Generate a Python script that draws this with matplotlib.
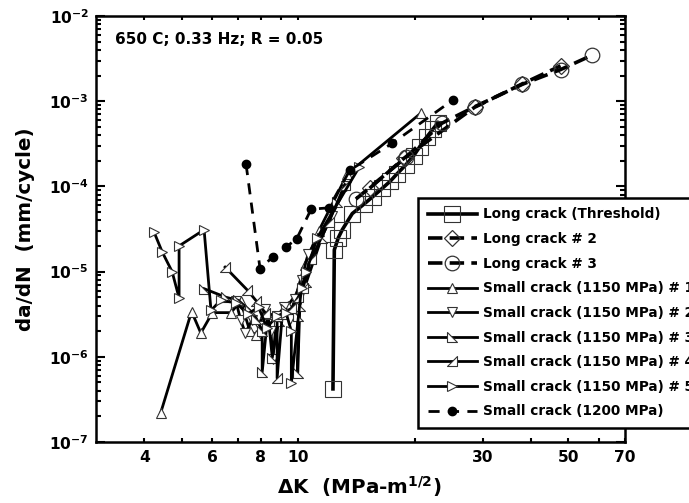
"""
Fatigue crack growth, da/dN vs Delta K, 650 C, log-log axes.
"""

import matplotlib
matplotlib.use("Agg")
import matplotlib.pyplot as plt
from matplotlib.path import Path
from matplotlib.ticker import FixedLocator, FixedFormatter, NullFormatter

plt.rcParams["font.family"] = "DejaVu Sans"
plt.rcParams["font.weight"] = "bold"
plt.rcParams["mathtext.fontset"] = "custom"
plt.rcParams["mathtext.rm"] = "DejaVu Sans:bold"
plt.rcParams["mathtext.bf"] = "DejaVu Sans:bold"
plt.rcParams["mathtext.it"] = "DejaVu Sans:bold"
plt.rcParams["mathtext.default"] = "rm"

# ---------------------------------------------------------------------------
# Data
# ---------------------------------------------------------------------------

long_thr_dk = [12.3, 12.4, 12.7, 13.0, 13.8, 14.8, 15.6, 16.5, 17.3, 18.0,
               19.0, 19.9, 20.6, 21.5, 22.3, 23.0]
long_thr_rate = [4.2e-7, 1.8e-5, 2.5e-5, 3.1e-5, 4.8e-5, 6.2e-5, 7.6e-5, 9.5e-5,
                 1.15e-4, 1.4e-4, 1.8e-4, 2.3e-4, 2.9e-4, 3.8e-4, 4.7e-4, 5.6e-4]

long2_dk = [15.3, 18.8, 28.6, 38.0, 47.7]
long2_rate = [9.5e-5, 2.15e-4, 8.5e-4, 1.6e-3, 2.6e-3]

long3_dk = [14.1, 19.0, 23.5, 28.6, 38.0, 47.7, 57.4]
long3_rate = [7.1e-5, 2.2e-4, 5.5e-4, 8.6e-4, 1.58e-3, 2.35e-3, 3.45e-3]

sc1_dk = [4.41, 5.3, 5.6, 6.0, 6.7, 7.1, 7.5, 7.8, 8.2, 8.8, 9.4, 9.9, 10.4,
          11.3, 13.4, 20.8]
sc1_rate = [2.2e-7, 3.4e-6, 1.9e-6, 3.3e-6, 3.3e-6, 4.5e-6, 2.0e-6, 1.8e-6,
            2.7e-6, 3.0e-6, 4.0e-6, 5.5e-6, 1.2e-5, 3.0e-5, 1.4e-4, 7.3e-4]

sc2_dk = [6.9, 7.1, 7.3, 7.6, 7.9, 8.2, 8.5, 8.6, 8.8, 9.2, 9.5, 9.8, 10.2,
          10.6, 12.2, 13.3]
sc2_rate = [4.5e-6, 2.7e-6, 1.9e-6, 2.7e-6, 2.3e-6, 3.6e-6, 2.0e-6, 9.5e-7,
            3.0e-6, 3.8e-6, 2.8e-6, 4.8e-6, 8.0e-6, 1.6e-5, 4.5e-5, 1.0e-4]

sc3_dk = [5.71, 6.5, 7.0, 7.5, 7.8, 8.07, 8.07, 8.35, 8.57, 8.9, 9.3, 9.97,
          9.97, 10.1, 10.5, 11.5, 12.6]
sc3_rate = [6.3e-6, 5.0e-6, 4.6e-6, 3.5e-6, 2.8e-6, 2.0e-6, 6.6e-7, 3.2e-6,
            9.8e-7, 2.6e-6, 3.6e-6, 3.0e-6, 6.5e-7, 4.0e-6, 7.5e-6, 2.5e-5,
            6.5e-5]

sc4_dk = [6.47, 7.38, 7.8, 8.2, 8.82, 8.82, 9.1, 9.6, 10.0, 10.3, 10.8, 12.0,
          13.2]
sc4_rate = [1.13e-5, 6.1e-6, 4.5e-6, 3.3e-6, 3.0e-6, 5.6e-7, 3.2e-6, 3.7e-6,
            5.0e-6, 6.5e-6, 1.4e-5, 3.8e-5, 1.05e-4]

sc5_dk = [4.24, 4.45, 4.72, 4.92, 4.92, 5.71, 5.95, 6.3, 6.9, 7.4, 7.9, 8.3,
          8.8, 9.3, 9.6, 9.6, 10.2, 10.5, 11.2, 14.4]
sc5_rate = [2.9e-5, 1.7e-5, 1.0e-5, 4.9e-6, 2.0e-5, 3.1e-5, 3.5e-6, 4.6e-6,
            4.3e-6, 3.2e-6, 3.8e-6, 2.2e-6, 3.0e-6, 3.3e-6, 2.0e-6, 4.9e-7,
            6.5e-6, 1.0e-5, 2.5e-5, 1.7e-4]

sc1200_dk = [7.33, 7.97, 8.6, 9.3, 9.9, 10.8, 12.0, 13.6, 17.5, 25.1]
sc1200_rate = [1.83e-4, 1.07e-5, 1.5e-5, 1.95e-5, 2.4e-5, 5.4e-5, 5.6e-5,
               1.55e-4, 3.2e-4, 1.03e-3]

# ---------------------------------------------------------------------------
# Style
# ---------------------------------------------------------------------------

EDGE = "#333333"
# right-angle triangles used by Origin for series #3 and #4
TRI_LEFT = Path([(-1, 1), (-1, -1), (1, -1), (-1, 1)], closed=True)
TRI_RIGHT = Path([(1, 1), (1, -1), (-1, -1), (1, 1)], closed=True)

fig = plt.figure(figsize=(6.89, 5.03), dpi=100)
ax = fig.add_axes([96 / 689, 61 / 503, 529 / 689, 426 / 503])
ax.set_xscale("log")
ax.set_yscale("log")

small = dict(color="black", lw=2.0, ms=6.5, mfc="white", mec=EDGE, mew=0.8)

ax.plot(long_thr_dk, long_thr_rate, "-", color="black", lw=2.6, marker="s",
        ms=11, mfc="none", mec=EDGE, mew=0.8, label="Long crack (Threshold)")
ax.plot(long2_dk, long2_rate, color="black", lw=2.6, dashes=(4, 2), marker="D",
        ms=8.5, mfc="none", mec=EDGE, mew=0.9, label="Long crack # 2")
ax.plot(long3_dk, long3_rate, color="black", lw=2.6, dashes=(4, 2), marker="o",
        ms=10.5, mfc="none", mec=EDGE, mew=0.9, label="Long crack # 3")
ax.plot(sc1_dk, sc1_rate, "-", marker="^", label="Small crack (1150 MPa) # 1", **small)
ax.plot(sc2_dk, sc2_rate, "-", marker="v", label="Small crack (1150 MPa) # 2", **small)
ax.plot(sc3_dk, sc3_rate, "-", marker=TRI_LEFT, label="Small crack (1150 MPa) # 3", **small)
ax.plot(sc4_dk, sc4_rate, "-", marker=TRI_RIGHT, label="Small crack (1150 MPa) # 4", **small)
ax.plot(sc5_dk, sc5_rate, "-", marker=">", label="Small crack (1150 MPa) # 5", **small)
ax.plot(sc1200_dk, sc1200_rate, color="black", lw=2.0, dashes=(4, 3), marker="o",
        ms=6, mfc="black", mec="black", label="Small crack (1200 MPa)")

ax.set_xlim(3, 70)
ax.set_ylim(1e-7, 1e-2)

# ticks
ax.xaxis.set_major_locator(FixedLocator([4, 6, 8, 10, 30, 50, 70]))
ax.xaxis.set_major_formatter(FixedFormatter(["4", "6", "8", "10", "30", "50", "70"]))
ax.xaxis.set_minor_locator(FixedLocator([5, 7, 9, 20, 40, 60]))
ax.xaxis.set_minor_formatter(NullFormatter())

decades = [1e-7, 1e-6, 1e-5, 1e-4, 1e-3, 1e-2]
ax.yaxis.set_major_locator(FixedLocator(decades))
ax.yaxis.set_major_formatter(FixedFormatter([r"$10^{-7}$", r"$10^{-6}$", r"$10^{-5}$",
                                             r"$10^{-4}$", r"$10^{-3}$", r"$10^{-2}$"]))
ax.yaxis.set_minor_locator(FixedLocator([m * d for d in decades[:-1] for m in range(2, 10)]))
ax.yaxis.set_minor_formatter(NullFormatter())

ax.tick_params(axis="both", which="both", direction="in", top=True, right=True,
               width=1.5, labelsize=11.2)
ax.tick_params(axis="x", which="both", length=3, pad=6)
ax.tick_params(axis="y", which="major", length=6.5, pad=5)
ax.tick_params(axis="y", which="minor", length=3.3)
for sp in ax.spines.values():
    sp.set_linewidth(1.8)

ax.set_xlabel(r"$\Delta$K  (MPa-m$^{1/2}$)", fontsize=14.3, fontweight="bold")
ax.set_ylabel("da/dN  (mm/cycle)", fontsize=14.3, fontweight="bold")
ax.xaxis.set_label_coords(0.497, -0.075)
ax.yaxis.set_label_coords(-0.115, 0.5)

ax.text(0.036, 0.944, "650 C; 0.33 Hz; R = 0.05", transform=ax.transAxes,
        fontsize=11, fontweight="bold", va="center", ha="left")

# legend deliberately runs past the right edge of the figure, as in the source
leg = ax.legend(loc="upper left", bbox_to_anchor=(0.609, 0.573), borderaxespad=0,
                numpoints=1, handlelength=3.6, handletextpad=0.45,
                labelspacing=0.78, fontsize=9.8, fancybox=False, frameon=True,
                edgecolor="black", borderpad=0.7)
leg.get_frame().set_linewidth(1.8)
leg.get_frame().set_alpha(None)

fig.savefig("out.png", dpi=100)
